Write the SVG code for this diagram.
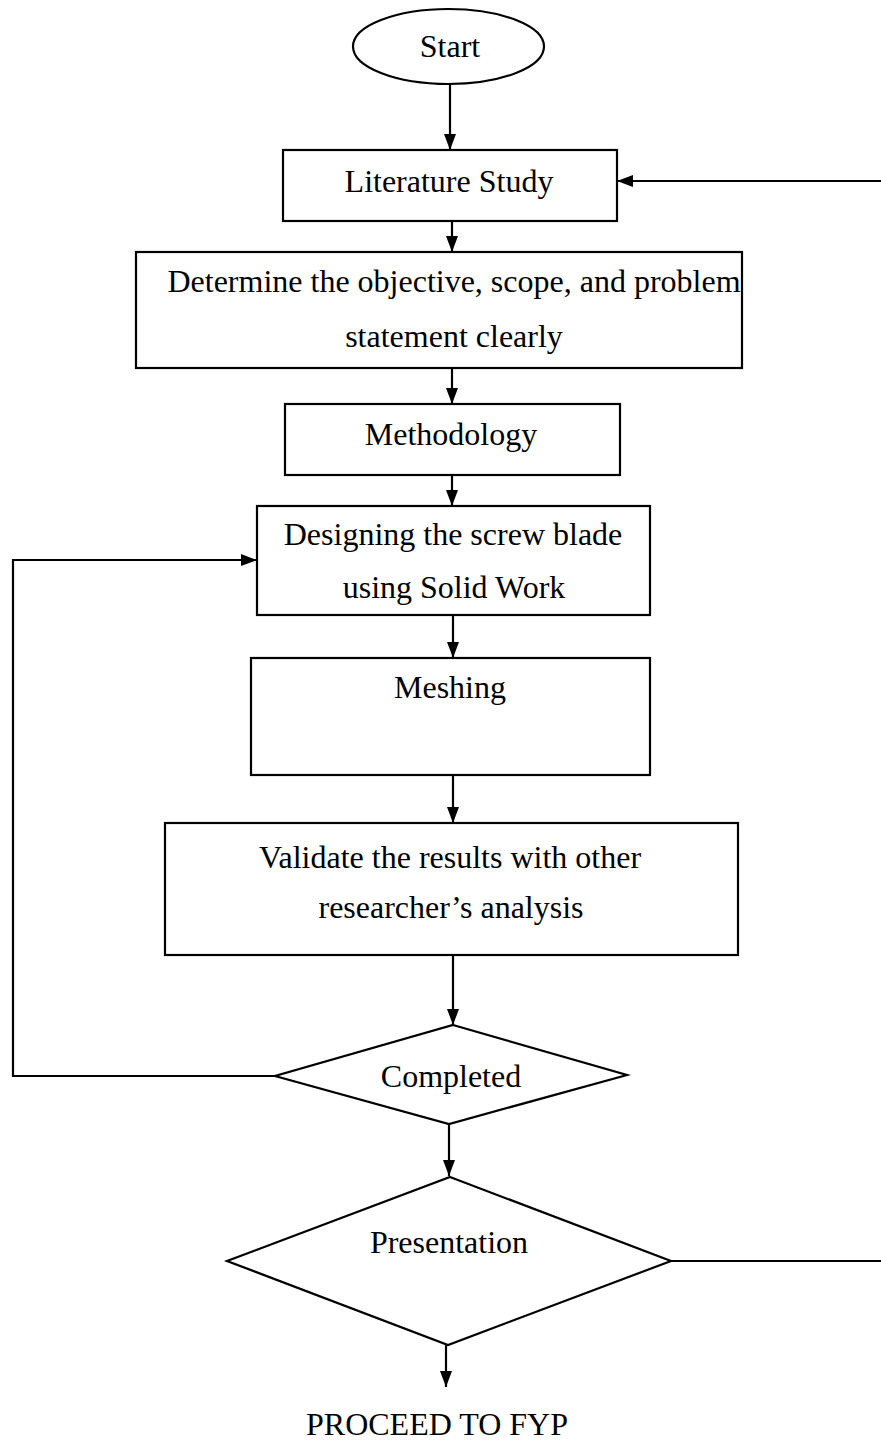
<svg xmlns="http://www.w3.org/2000/svg" width="881" height="1441" viewBox="0 0 881 1441">
<style>
.shape{fill:#fff;stroke:#000;stroke-width:2.2}
.edge{fill:none;stroke:#000;stroke-width:2.2}
text{font-family:"Liberation Serif","Times New Roman",serif;font-size:32px;fill:#000;text-anchor:middle}
</style>
<defs>
<marker id="arr" viewBox="0 0 16 12" refX="16" refY="6" markerWidth="16" markerHeight="13" markerUnits="userSpaceOnUse" orient="auto">
<path d="M0,0 L16,6 L0,12 Z" fill="#000"/>
</marker>
<clipPath id="clipDesign"><rect x="257" y="506" width="393" height="108"/></clipPath>
</defs>
<rect width="881" height="1441" fill="#fff"/>
<g id="connectors">
<line class="edge" x1="450" y1="84" x2="450" y2="150" marker-end="url(#arr)"/>
<line class="edge" x1="881" y1="181" x2="617" y2="181" marker-end="url(#arr)"/>
<line class="edge" x1="452" y1="221" x2="452" y2="252" marker-end="url(#arr)"/>
<line class="edge" x1="452" y1="368" x2="452" y2="404" marker-end="url(#arr)"/>
<line class="edge" x1="452" y1="475" x2="452" y2="506" marker-end="url(#arr)"/>
<line class="edge" x1="453" y1="616" x2="453" y2="658" marker-end="url(#arr)"/>
<line class="edge" x1="453" y1="775" x2="453" y2="823" marker-end="url(#arr)"/>
<line class="edge" x1="453" y1="955" x2="453" y2="1025" marker-end="url(#arr)"/>
<polyline class="edge" points="275,1076 13,1076 13,560 257,560" marker-end="url(#arr)"/>
<line class="edge" x1="449" y1="1124" x2="449" y2="1176" marker-end="url(#arr)"/>
<line class="edge" x1="671" y1="1261" x2="881" y2="1261"/>
<line class="edge" x1="446" y1="1345" x2="446" y2="1387" marker-end="url(#arr)"/>
</g>
<g id="start">
<ellipse class="shape" cx="448.5" cy="46.5" rx="95.5" ry="37.5"/>
<text x="450" y="57">Start</text>
</g>
<g id="literature">
<rect class="shape" x="283" y="150" width="334" height="71"/>
<text x="449" y="192">Literature Study</text>
</g>
<g id="determine">
<rect class="shape" x="136" y="252" width="606" height="116"/>
<text x="454" y="292">Determine the objective, scope, and problem</text>
<text x="454" y="347">statement clearly</text>
</g>
<g id="methodology">
<rect class="shape" x="285" y="404" width="335" height="71"/>
<text x="451" y="445">Methodology</text>
</g>
<g id="designing">
<rect class="shape" x="257" y="506" width="393" height="109"/>
<g clip-path="url(#clipDesign)">
<text x="453" y="545">Designing the screw blade</text>
<text x="454" y="598">using Solid Work</text>
</g>
</g>
<g id="meshing">
<rect class="shape" x="251" y="658" width="399" height="117"/>
<text x="450" y="698">Meshing</text>
</g>
<g id="validate">
<rect class="shape" x="165" y="823" width="573" height="132"/>
<text x="450" y="868">Validate the results with other</text>
<text x="451" y="918">researcher’s analysis</text>
</g>
<g id="completed">
<polygon class="shape" points="453,1025 627,1075 449,1124 275,1076"/>
<text x="451" y="1087">Completed</text>
</g>
<g id="presentation">
<polygon class="shape" points="450,1177 671,1261 448,1345 227,1261"/>
<text x="449" y="1253">Presentation</text>
</g>
<g id="proceed">
<text x="437" y="1435">PROCEED TO FYP</text>
</g>
</svg>
